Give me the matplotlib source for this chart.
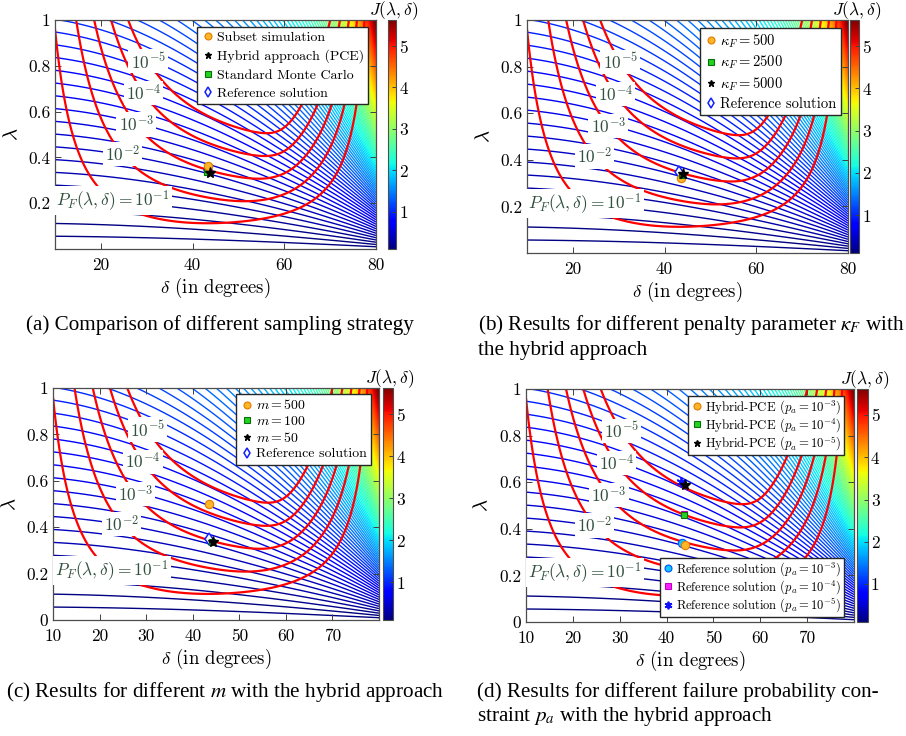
import math
import numpy as np
import matplotlib
matplotlib.use('Agg')
import matplotlib.pyplot as plt
from matplotlib.colors import Normalize
from matplotlib.cm import ScalarMappable
from matplotlib.lines import Line2D

plt.rcParams['font.family'] = 'cmr10'
plt.rcParams['mathtext.fontset'] = 'cm'
plt.rcParams['axes.formatter.use_mathtext'] = True

W, H = 906, 736

# objective J(lambda, delta): contour spacing and colour range
J_STEP = 0.0566
J_COUNT = 101
J_RANGE = (0.1, 5.62)

# failure-probability contours (log10 levels) and their labels
PF_EXP = [-5, -4, -3, -2, -1]
PF_TEXT = [r'$10^{-5}$', r'$10^{-4}$', r'$10^{-3}$', r'$10^{-2}$',
           r'$P_F(\lambda,\delta) = 10^{-1}$']
PF_LABEL_AT = [(32.2, 0.832), (30.7, 0.693), (28.2, 0.547), (24.9, 0.415), (22.0, 0.203)]

# limit-state parameters: mode 1 (small angles), mode 2 (steep angles)
M1_C, M1_A, M1_P = 0.6, 0.185, 2.23
M1_MU, M1_SD = 0.125, 0.147
M2_EDGE, M2_K, M2_SD, M2_B0 = 80.5, 3.0, 0.42, 1.2816

# (a) sampling strategies
a_names = ['Subset simulation', 'Hybrid approach (PCE)', 'Standard Monte Carlo', 'Reference solution']
a_delta = [43.4, 43.8, 43.1, 43.3]
a_lam = [0.364, 0.332, 0.335, 0.345]

# (b) penalty parameter
b_names = [r'$\kappa_F = 500$', r'$\kappa_F = 2500$', r'$\kappa_F = 5000$', 'Reference solution']
b_delta = [43.6, 43.8, 44.0, 43.05]
b_lam = [0.323, 0.335, 0.340, 0.347]

# (c) number of samples m
c_names = [r'$m = 500$', r'$m = 100$', r'$m = 50$', 'Reference solution']
c_delta = [43.5, 44.2, 44.3, 43.4]
c_lam = [0.500, 0.338, 0.337, 0.347]

# (d) failure probability constraint
d_hyb_names = [r'Hybrid-PCE ($p_a = 10^{-3}$)', r'Hybrid-PCE ($p_a = 10^{-4}$)',
               r'Hybrid-PCE ($p_a = 10^{-5}$)']
d_hyb_delta = [44.0, 43.7, 44.0]
d_hyb_lam = [0.332, 0.458, 0.587]
d_ref_names = [r'Reference solution ($p_a = 10^{-3}$)', r'Reference solution ($p_a = 10^{-4}$)',
               r'Reference solution ($p_a = 10^{-5}$)']
d_ref_delta = [43.3, 43.8, 43.1]
d_ref_lam = [0.341, 0.462, 0.600]

ORANGE = dict(marker='o', mfc='#ffb526', mec='#e07b00', ms=6, mew=0.8, ls='none')
BLACK = dict(marker='*', mfc='k', mec='k', ms=8, ls='none')
GREEN = dict(marker='s', mfc='#22d422', mec='#0a6e0a', ms=5, mew=0.8, ls='none')
DIAM = dict(marker='d', mfc='white', mec='#1020ff', ms=6, mew=1.1, ls='none')
CYAN = dict(marker='o', mfc='#10c8ff', mec='#0050ff', ms=6, mew=0.8, ls='none')
MAGENTA = dict(marker='s', mfc='#ff20ff', mec='#c000c0', ms=5, mew=0.8, ls='none')
BLUEAST = dict(marker=(6, 2, 0), color='#1010ff', ms=7, mew=1.3, ls='none')

LABEL_GREEN = '#32503f'

# grid
dd = np.linspace(10, 80, 500)
ll = np.linspace(0.002, 1.0, 500)
D, L = np.meshgrid(dd, ll)
J = L / np.cos(np.radians(D))

erfc = np.vectorize(math.erfc)
f1 = M1_C + M1_A / np.sin(np.radians(D)) ** M1_P
beta1 = (np.sqrt(L / f1) - M1_MU) / M1_SD
beta2 = M2_B0 + np.log((M2_EDGE - D) * L / M2_K) / M2_SD
pf = 0.5 * erfc(beta1 / np.sqrt(2)) + 0.5 * erfc(beta2 / np.sqrt(2))
log_pf = np.log10(np.clip(pf, 1e-12, 1))

j_levels = J_STEP * np.arange(1, J_COUNT + 1)
norm = Normalize(*J_RANGE)


def px_rect(x0, x1, y0, y1):
    return [x0 / W, 1 - y1 / H, (x1 - x0) / W, (y1 - y0) / H]


def panel(rect, cb_rect, xticks, yticks):
    ax = fig.add_axes(px_rect(*rect))
    ax.contour(D, L, J, levels=j_levels, cmap='jet', norm=norm, linewidths=1.0, zorder=1)
    cs = ax.contour(D, L, log_pf, levels=sorted(PF_EXP), colors='red', linewidths=1.6,
                    linestyles='solid', zorder=2)

    # labels sit on their red curve, white box hides the lines underneath
    for e, txt, (dt, lt) in zip(PF_EXP, PF_TEXT, PF_LABEL_AT):
        i = list(cs.levels).index(e)
        segs = [s for s in cs.allsegs[i] if len(s)]
        pts = np.vstack(segs)
        dist = ((pts[:, 0] - dt) / 70) ** 2 + (pts[:, 1] - lt) ** 2
        px, py = pts[np.argmin(dist)]
        ax.text(px, py, txt, color=LABEL_GREEN, fontsize=12.5, ha='center', va='center',
                zorder=3, bbox=dict(facecolor='white', edgecolor='none', pad=1.5))

    ax.set_xlim(10, 80)
    ax.set_ylim(0, 1)
    ax.set_xticks(xticks)
    ax.set_yticks(yticks)
    ax.set_xticklabels([f'{t:g}' for t in xticks])
    ax.set_yticklabels([f'{t:g}' for t in yticks])
    ax.tick_params(direction='in', length=4, top=True, right=True, labelsize=12.5,
                   color='0.25', width=0.7)
    ax.tick_params(axis='x', pad=6)
    for s in ax.spines.values():
        s.set_color('0.3')
        s.set_linewidth(0.9)
    ax.set_xlabel(r'$\delta$ (in degrees)', fontsize=13.5, labelpad=2)
    ax.set_ylabel(r'$\lambda$', fontsize=15)
    ax.yaxis.set_label_coords(-0.105, 0.5)

    cax = fig.add_axes(px_rect(*cb_rect))
    cb = fig.colorbar(ScalarMappable(norm=norm, cmap='jet'), cax=cax, ticks=[1, 2, 3, 4, 5])
    cb.ax.set_yticklabels(['1', '2', '3', '4', '5'])
    cb.ax.tick_params(direction='in', length=3, labelsize=12.5, color='0.25', width=0.7, pad=2)
    cb.outline.set_edgecolor('0.3')
    cb.outline.set_linewidth(0.8)
    cx = (cb_rect[0] + cb_rect[1]) / 2
    fig.text((cx + 2) / W, 1 - (cb_rect[2] - 9) / H, r'$J(\lambda,\delta)$',
             fontsize=12.5, ha='center', va='center')
    return ax


def legend(ax, handles, names, anchor, loc, fs, spacing=0.3, pad=0.3):
    return ax.legend(handles, names, loc=loc, bbox_to_anchor=anchor, fontsize=fs,
                     frameon=True, fancybox=False, edgecolor='0.15', framealpha=1,
                     borderpad=pad, labelspacing=spacing, handletextpad=0.2,
                     handlelength=0.9, borderaxespad=0)


fig = plt.figure(figsize=(W / 100, H / 100), dpi=100)

top_x = [20, 40, 60, 80]
top_y = [0.2, 0.4, 0.6, 0.8, 1]
bot_x = [10, 20, 30, 40, 50, 60, 70]
bot_y = [0, 0.2, 0.4, 0.6, 0.8, 1]

# (a)
ax = panel((55, 376, 20, 249), (388, 396, 20, 249), top_x, top_y)
ax.plot(a_delta[3], a_lam[3], **DIAM, zorder=4)
ax.plot(a_delta[2], a_lam[2], **GREEN, zorder=5)
ax.plot(a_delta[0], a_lam[0], **ORANGE, zorder=6)
ax.plot(a_delta[1], a_lam[1], **BLACK, zorder=7)
h = [Line2D([], [], **dict(ORANGE, ms=5)), Line2D([], [], **dict(BLACK, ms=5)),
     Line2D([], [], **dict(GREEN, ms=4.5)), Line2D([], [], **dict(DIAM, ms=5))]
legend(ax, h, a_names, (0.975, 0.969), 'upper right', 10, 0.4)

# (b)
ax = panel((527, 848, 20, 253), (850, 859, 20, 253), top_x, top_y)
ax.plot(b_delta[3], b_lam[3], **DIAM, zorder=4)
ax.plot(b_delta[0], b_lam[0], **ORANGE, zorder=5)
ax.plot(b_delta[1], b_lam[1], **GREEN, zorder=6)
ax.plot(b_delta[2], b_lam[2], **BLACK, zorder=7)
h = [Line2D([], [], **dict(ORANGE, ms=5)), Line2D([], [], **dict(GREEN, ms=4.5)),
     Line2D([], [], **dict(BLACK, ms=5)), Line2D([], [], **dict(DIAM, ms=5))]
legend(ax, h, b_names, (0.978, 0.966), 'upper right', 10.5, 0.28)

# (c)
ax = panel((53, 379, 388, 620), (383, 393, 388, 620), bot_x, bot_y)
ax.plot(c_delta[3], c_lam[3], **DIAM, zorder=4)
ax.plot(c_delta[0], c_lam[0], **ORANGE, zorder=5)
ax.plot(c_delta[1], c_lam[1], **GREEN, zorder=6)
ax.plot(c_delta[2], c_lam[2], **BLACK, zorder=7)
h = [Line2D([], [], **dict(ORANGE, ms=5)), Line2D([], [], **dict(GREEN, ms=4.5)),
     Line2D([], [], **dict(BLACK, ms=5)), Line2D([], [], **dict(DIAM, ms=5))]
legend(ax, h, c_names, (0.975, 0.973), 'upper right', 10, 0.2)

# (d)
ax = panel((526, 854, 389, 622), (857, 868, 389, 622), bot_x, bot_y)
ax.plot(d_ref_delta[0], d_ref_lam[0], **CYAN, zorder=4)
ax.plot(d_ref_delta[1], d_ref_lam[1], **MAGENTA, zorder=4)
ax.plot(d_ref_delta[2], d_ref_lam[2], **BLUEAST, zorder=4)
ax.plot(d_hyb_delta[0], d_hyb_lam[0], **ORANGE, zorder=5)
ax.plot(d_hyb_delta[1], d_hyb_lam[1], **GREEN, zorder=5)
ax.plot(d_hyb_delta[2], d_hyb_lam[2], **BLACK, zorder=5)
h1 = [Line2D([], [], **dict(ORANGE, ms=5)), Line2D([], [], **dict(GREEN, ms=4.5)),
      Line2D([], [], **dict(BLACK, ms=5))]
lg = legend(ax, h1, d_hyb_names, (0.970, 0.971), 'upper right', 9.2, 0.0, 0.2)
ax.add_artist(lg)
h2 = [Line2D([], [], **dict(CYAN, ms=5)), Line2D([], [], **dict(MAGENTA, ms=4.5)),
      Line2D([], [], **dict(BLUEAST, ms=5.5))]
legend(ax, h2, d_ref_names, (0.970, 0.021), 'lower right', 9.0, 0.0, 0.2)

# captions
cap = dict(fontsize=15.2, family='Liberation Serif', math_fontfamily='stix', va='center')
fig.text(26 / W, 1 - 325 / H, '(a) Comparison of different sampling strategy', **cap)
fig.text(478 / W, 1 - 325 / H, r'(b) Results for different penalty parameter $\kappa_F$ with', **cap)
fig.text(478 / W, 1 - 350 / H, 'the hybrid approach', **cap)
fig.text(6 / W, 1 - 692 / H, r'(c) Results for different $m$ with the hybrid approach', **cap)
fig.text(477 / W, 1 - 692 / H, '(d) Results for different failure probability con-', **cap)
fig.text(477 / W, 1 - 717 / H, r'straint $p_a$ with the hybrid approach', **cap)

fig.savefig('out.png', dpi=100)
